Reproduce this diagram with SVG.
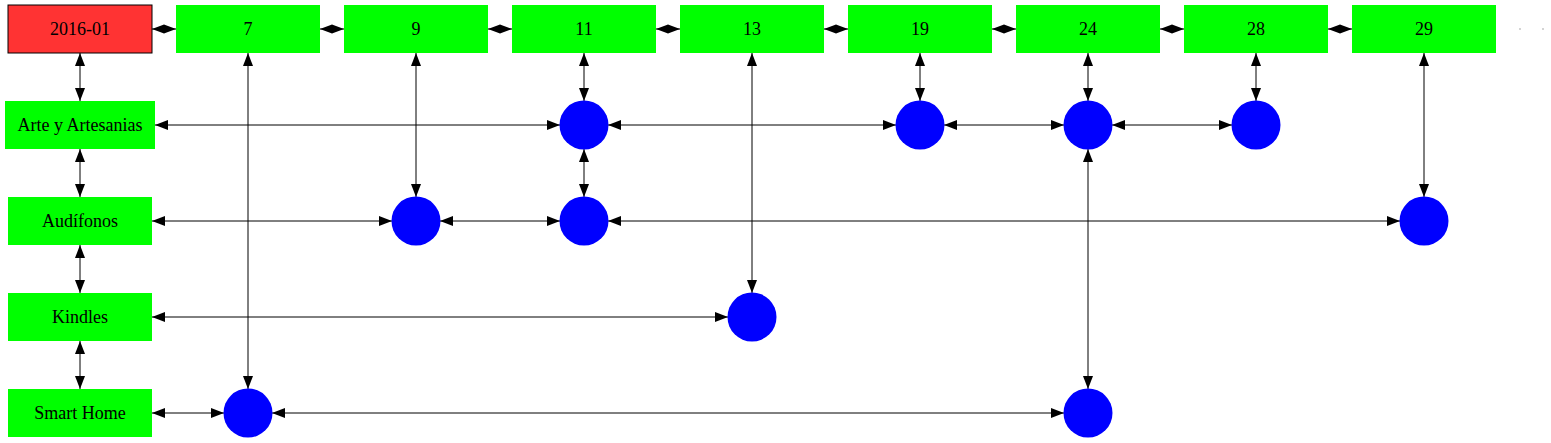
<svg xmlns="http://www.w3.org/2000/svg" width="1551" height="443" viewBox="0 0 1551 443">
<style>
.box{fill:#00ff00;stroke:none}
.red{fill:#ff3333;stroke:#000;stroke-width:1}
.dot{fill:#0000ff;stroke:none}
.lbl{font-family:"Liberation Serif","Times New Roman",serif;font-size:18px;fill:#000;text-anchor:middle;dominant-baseline:central}
.e{stroke:#000;stroke-width:1;fill:none;marker-start:url(#ah);marker-end:url(#ah)}
.t{stroke:#000;stroke-width:1;fill:none;marker-start:url(#ahs);marker-end:url(#ahs)}
</style>
<defs>
<marker id="ah" markerUnits="userSpaceOnUse" markerWidth="13" markerHeight="10" refX="13" refY="5" orient="auto-start-reverse" overflow="visible">
<path d="M0,0 L13,5 L0,10 z" fill="#000"/>
</marker>
<marker id="ahs" markerUnits="userSpaceOnUse" markerWidth="12" markerHeight="10" refX="12" refY="5" orient="auto-start-reverse" overflow="visible">
<path d="M0,0.5 L12,5 L0,9.5 z" fill="#000"/>
</marker>
</defs>
<rect width="1551" height="443" fill="#fff"/>
<g id="connectors">
<line class="t" x1="152" y1="29" x2="176" y2="29"/>
<line class="t" x1="320" y1="29" x2="344" y2="29"/>
<line class="t" x1="488" y1="29" x2="512" y2="29"/>
<line class="t" x1="656" y1="29" x2="680" y2="29"/>
<line class="t" x1="824" y1="29" x2="848" y2="29"/>
<line class="t" x1="992" y1="29" x2="1016" y2="29"/>
<line class="t" x1="1160" y1="29" x2="1184" y2="29"/>
<line class="t" x1="1328" y1="29" x2="1352" y2="29"/>
<line class="e" x1="80" y1="53" x2="80" y2="101"/>
<line class="e" x1="80" y1="149" x2="80" y2="197"/>
<line class="e" x1="80" y1="245" x2="80" y2="293"/>
<line class="e" x1="80" y1="341" x2="80" y2="389"/>
<line class="e" x1="248" y1="53" x2="248" y2="389"/>
<line class="e" x1="416" y1="53" x2="416" y2="197"/>
<line class="e" x1="584" y1="53" x2="584" y2="101"/>
<line class="e" x1="584" y1="149" x2="584" y2="197"/>
<line class="e" x1="752" y1="53" x2="752" y2="293"/>
<line class="e" x1="920" y1="53" x2="920" y2="101"/>
<line class="e" x1="1088" y1="53" x2="1088" y2="101"/>
<line class="e" x1="1088" y1="149" x2="1088" y2="389"/>
<line class="e" x1="1256" y1="53" x2="1256" y2="101"/>
<line class="e" x1="1424" y1="53" x2="1424" y2="197"/>
<line class="e" x1="155" y1="125" x2="560" y2="125"/>
<line class="e" x1="608" y1="125" x2="896" y2="125"/>
<line class="e" x1="944" y1="125" x2="1064" y2="125"/>
<line class="e" x1="1112" y1="125" x2="1232" y2="125"/>
<line class="e" x1="152" y1="221" x2="392" y2="221"/>
<line class="e" x1="440" y1="221" x2="560" y2="221"/>
<line class="e" x1="608" y1="221" x2="1400" y2="221"/>
<line class="e" x1="152" y1="317" x2="728" y2="317"/>
<line class="e" x1="152" y1="413" x2="224" y2="413"/>
<line class="e" x1="272" y1="413" x2="1064" y2="413"/>
</g>
<g id="n2016-01"><rect class="red" x="8" y="5" width="144" height="48"/><text class="lbl" x="80" y="29">2016-01</text></g>
<g id="n7"><rect class="box" x="176" y="5" width="144" height="48"/><text class="lbl" x="248" y="29">7</text></g>
<g id="n9"><rect class="box" x="344" y="5" width="144" height="48"/><text class="lbl" x="416" y="29">9</text></g>
<g id="n11"><rect class="box" x="512" y="5" width="144" height="48"/><text class="lbl" x="584" y="29">11</text></g>
<g id="n13"><rect class="box" x="680" y="5" width="144" height="48"/><text class="lbl" x="752" y="29">13</text></g>
<g id="n19"><rect class="box" x="848" y="5" width="144" height="48"/><text class="lbl" x="920" y="29">19</text></g>
<g id="n24"><rect class="box" x="1016" y="5" width="144" height="48"/><text class="lbl" x="1088" y="29">24</text></g>
<g id="n28"><rect class="box" x="1184" y="5" width="144" height="48"/><text class="lbl" x="1256" y="29">28</text></g>
<g id="n29"><rect class="box" x="1352" y="5" width="144" height="48"/><text class="lbl" x="1424" y="29">29</text></g>
<g id="ndots"><circle cx="1520" cy="29" r="0.7" fill="#888"/><circle cx="1543" cy="29" r="0.7" fill="#888"/></g>
<g id="arte"><rect class="box" x="5" y="101" width="150" height="48"/><text class="lbl" x="80" y="125">Arte y Artesanias</text></g>
<g id="audifonos"><rect class="box" x="8" y="197" width="144" height="48"/><text class="lbl" x="80" y="221">Audífonos</text></g>
<g id="kindles"><rect class="box" x="8" y="293" width="144" height="48"/><text class="lbl" x="80" y="317">Kindles</text></g>
<g id="smarthome"><rect class="box" x="8" y="389" width="144" height="48"/><text class="lbl" x="80" y="413">Smart Home</text></g>
<g id="c_arte_11"><circle class="dot" cx="584" cy="125" r="24.5"/></g>
<g id="c_arte_19"><circle class="dot" cx="920" cy="125" r="24.5"/></g>
<g id="c_arte_24"><circle class="dot" cx="1088" cy="125" r="24.5"/></g>
<g id="c_arte_28"><circle class="dot" cx="1256" cy="125" r="24.5"/></g>
<g id="c_aud_9"><circle class="dot" cx="416" cy="221" r="24.5"/></g>
<g id="c_aud_11"><circle class="dot" cx="584" cy="221" r="24.5"/></g>
<g id="c_aud_29"><circle class="dot" cx="1424" cy="221" r="24.5"/></g>
<g id="c_kin_13"><circle class="dot" cx="752" cy="317" r="24.5"/></g>
<g id="c_sh_7"><circle class="dot" cx="248" cy="413" r="24.5"/></g>
<g id="c_sh_24"><circle class="dot" cx="1088" cy="413" r="24.5"/></g>
</svg>
